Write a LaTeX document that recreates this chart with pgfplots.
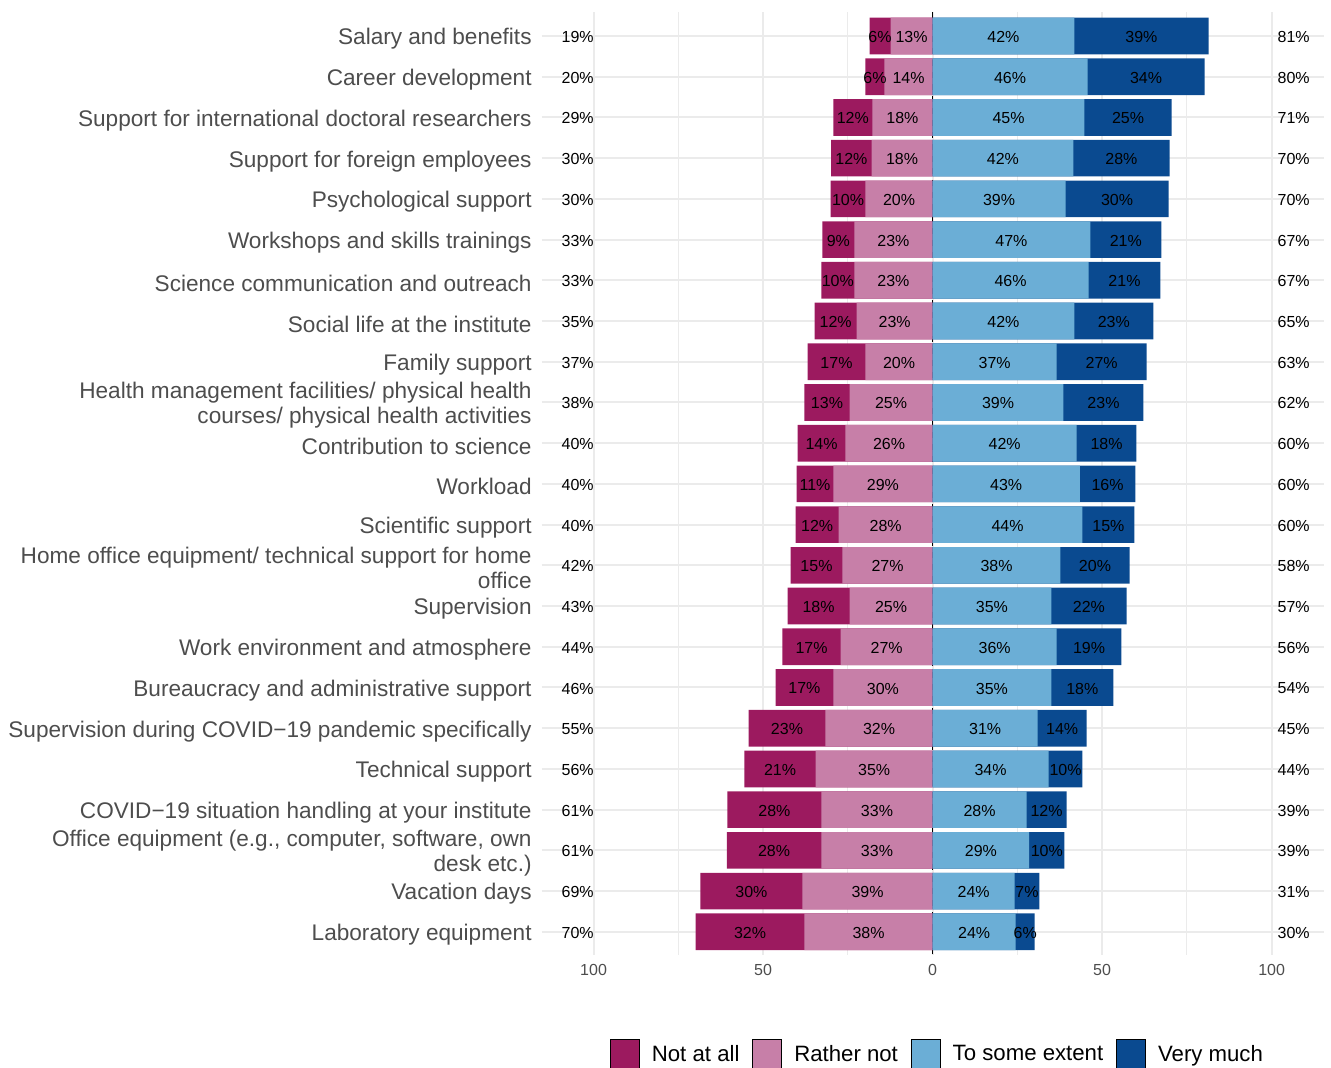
\documentclass[border=0pt]{standalone}
\usepackage{fontspec}
\setmainfont{Liberation Sans}
\usepackage{pgfplots}
\usepackage{pgfplotstable}
\pgfplotsset{compat=1.18}

\definecolor{cNot}{HTML}{9C1A5F}
\definecolor{cRather}{HTML}{C77FA8}
\definecolor{cSome}{HTML}{6BAED6}
\definecolor{cVery}{HTML}{0A4A90}
\definecolor{gridc}{HTML}{EBEBEB}
\definecolor{txtgray}{HTML}{4D4D4D}

% segment lengths (na rn se vm), printed labels (p..), totals (lt rt)
\pgfplotstableread{
y na rn se vm pna prn pse pvm lt rt
1 6.2 12.4 41.8 39.6 6 13 42 39 19 81
2 5.6 14.2 45.7 34.5 6 14 46 34 20 80
3 11.5 17.8 44.8 25.7 12 18 45 25 29 71
4 11.9 18.0 41.5 28.4 12 18 42 28 30 70
5 10.3 19.8 39.2 30.4 10 20 39 30 30 70
6 9.4 23.1 46.5 21.0 9 23 47 21 33 67
7 9.7 23.1 46.0 21.2 10 23 46 21 33 67
8 12.4 22.4 41.8 23.3 12 23 42 23 35 65
9 17.1 19.8 36.6 26.5 17 20 37 27 37 63
10 13.3 24.5 38.6 23.6 13 25 39 23 38 62
11 14.1 25.7 42.5 17.6 14 26 42 18 40 60
12 10.8 29.3 43.4 16.4 11 29 43 16 40 60
13 12.7 27.7 44.2 15.3 12 28 44 15 40 60
14 15.3 26.6 37.7 20.4 15 27 38 20 42 58
15 18.3 24.5 35.0 22.2 18 25 35 22 43 57
16 17.2 27.1 36.6 19.1 17 27 36 19 44 56
17 17.0 29.3 35.0 18.3 17 30 35 18 46 54
18 22.7 31.6 31.0 14.4 23 32 31 14 55 45
19 21.0 34.5 34.2 10.0 21 35 34 10 56 44
20 27.7 32.8 27.7 11.8 28 33 28 12 61 39
21 27.9 32.8 28.5 10.4 28 33 29 10 61 39
22 30.1 38.4 24.2 7.3 30 39 24 7 69 31
23 32.1 37.8 24.5 5.6 32 38 24 6 70 30
}\data

\pgfplotsset{
  pctlabel/.style={only marks, mark=*, mark size=0pt,
    mark options={draw=none, fill=none}, forget plot,
    nodes near coords={\pgfplotspointmeta\%}, point meta=explicit symbolic,
    every node near coord/.append style={font=\fontsize{8}{9.6}\selectfont,
      text=black, anchor=center, inner sep=0pt, yshift=-0.5pt}},
}

\begin{document}
\begin{tikzpicture}
\begin{axis}[
  at={(270.85pt,56.5pt)}, anchor=south west,
  scale only axis, width=390.9pt, height=471.5pt,
  xmin=-115.3, xmax=115.3,
  ymin=0.41, ymax=23.57, y dir=reverse,
  xtick={-100,-50,0,50,100},
  xticklabels={100,50,0,50,100},
  minor xtick={-75,-25,25,75},
  ytick={1,...,23},
  yticklabels={Salary and benefits, Career development,
    Support for international doctoral researchers, Support for foreign employees,
    Psychological support, Workshops and skills trainings,
    Science communication and outreach, Social life at the institute, Family support,
    {Health management facilities/ physical health\\courses/ physical health activities},
    Contribution to science, Workload, Scientific support,
    {Home office equipment/ technical support for home\\office},
    Supervision, Work environment and atmosphere, Bureaucracy and administrative support,
    Supervision during COVID−19 pandemic specifically, Technical support,
    COVID−19 situation handling at your institute,
    {Office equipment (e.g., computer, software, own\\desk etc.)},
    Vacation days, Laboratory equipment},
  yticklabel style={font=\fontsize{11.3}{12.5}\selectfont, text=txtgray,
    align=right, anchor=east, inner sep=0pt, xshift=-4.85pt, yshift=-1.5pt},
  xticklabel style={font=\fontsize{8}{9.6}\selectfont, text=txtgray,
    anchor=north, inner sep=0pt, yshift=-4.6pt},
  /pgf/number format/assume math mode=true,
  major tick length=0pt, minor tick length=0pt,
  axis line style={draw=none},
  xmajorgrids, xminorgrids, ymajorgrids,
  major grid style={gridc, line width=1pt},
  minor grid style={gridc, line width=0.5pt},
  xbar, bar width=0.9, bar shift=0pt,
  legend columns=4,
  legend style={at={(0.505,-0.1055)}, anchor=center, draw=none,
    font=\fontsize{11.1}{13}\selectfont, inner sep=0pt,
    nodes={inner sep=0pt},
    /tikz/every odd column/.append style={column sep=6pt},
    /tikz/every even column/.append style={column sep=6.5pt}},
  legend image code/.code={\fill[#1] (0pt,-7.5pt) rectangle (14.5pt,7.5pt);},
]
  % zero line, under the bars
  \addplot[sharp plot, black, dashed, line width=0.5pt, forget plot]
    coordinates {(0,0.41) (0,23.57)};

  % left: full disagreement bar, then "rather not" over it
  \addplot[fill=cNot, draw=none, forget plot] table[x expr=-\thisrow{na}-\thisrow{rn}, y=y] {\data};
  \addplot[fill=cRather, draw=none, forget plot] table[x expr=-\thisrow{rn}, y=y] {\data};
  % right: full agreement bar, then "to some extent" over it
  \addplot[fill=cVery, draw=none, forget plot] table[x expr=\thisrow{se}+\thisrow{vm}, y=y] {\data};
  \addplot[fill=cSome, draw=none, forget plot] table[x expr=\thisrow{se}, y=y] {\data};

  % labels in the middle of each segment
  \addplot[pctlabel] table[x expr=-\thisrow{rn}-\thisrow{na}/2, y=y, meta=pna] {\data};
  \addplot[pctlabel] table[x expr=-\thisrow{rn}/2, y=y, meta=prn] {\data};
  \addplot[pctlabel] table[x expr=\thisrow{se}/2, y=y, meta=pse] {\data};
  \addplot[pctlabel] table[x expr=\thisrow{se}+\thisrow{vm}/2, y=y, meta=pvm] {\data};
  % totals at both sides
  \addplot[pctlabel] table[x expr=-104.7, y=y, meta=lt] {\data};
  \addplot[pctlabel] table[x expr=106.5, y=y, meta=rt] {\data};

  \addlegendimage{fill=cNot}\addlegendentry{Not at all}
  \addlegendimage{fill=cRather}\addlegendentry{Rather not}
  \addlegendimage{fill=cSome}\addlegendentry{To some extent}
  \addlegendimage{fill=cVery}\addlegendentry{Very much}
\end{axis}
\pgfresetboundingbox
\useasboundingbox (0,0) rectangle (665.5pt,534pt);
\end{tikzpicture}
\end{document}
